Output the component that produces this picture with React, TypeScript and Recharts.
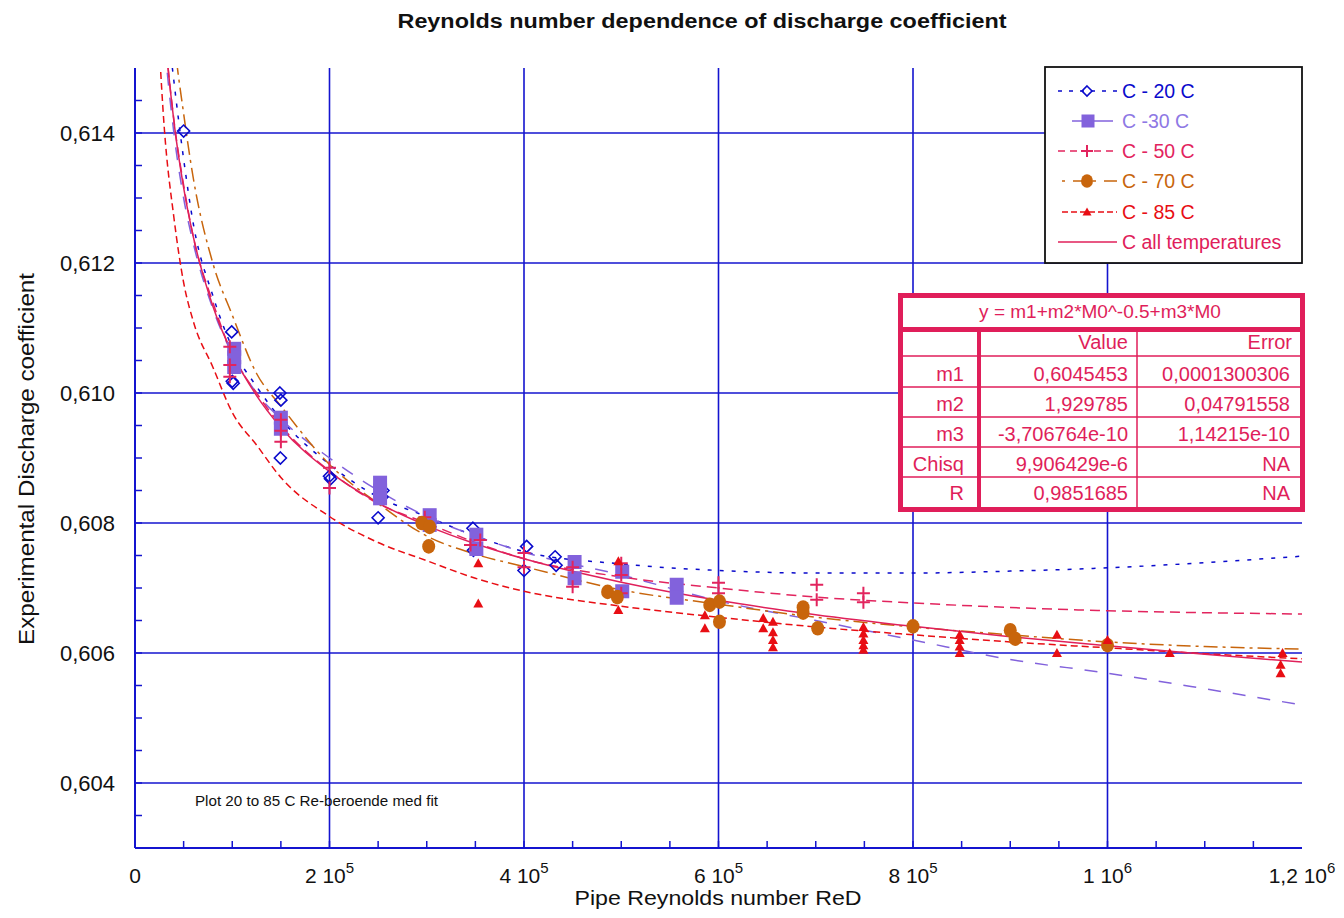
import React from "react";
import { ComposedChart, Line, Scatter, XAxis, YAxis, CartesianGrid, Customized } from "recharts";

const FONT = "'Liberation Sans', Arial, Helvetica, sans-serif";
const AXIS = "#1414CF";
const C20 = "#0A0ACC";
const C30 = "#8262DC";
const C30T = "#8E78E4";
const C50 = "#E2245E";
const C70 = "#C8650C";
const C85 = "#E80E14";
const FIT = "#E0205A";
const TABLE = "#E01E5A";

// ---------- axis ticks ----------
const xTicks = [0, 50000, 100000, 150000, 200000, 250000, 300000, 350000, 400000, 450000, 500000, 550000, 600000, 650000, 700000, 750000, 800000, 850000, 900000, 950000, 1000000, 1050000, 1100000, 1150000, 1200000];
const xMajor = [0, 200000, 400000, 600000, 800000, 1000000, 1200000];
const xMajorMantissa = ["0", "2 10", "4 10", "6 10", "8 10", "1 10", "1,2 10"];
const xMajorExp = ["", "5", "5", "5", "5", "6", "6"];
const yTicks = [0.603, 0.6035, 0.604, 0.6045, 0.605, 0.6055, 0.606, 0.6065, 0.607, 0.6075, 0.608, 0.6085, 0.609, 0.6095, 0.61, 0.6105, 0.611, 0.6115, 0.612, 0.6125, 0.613, 0.6135, 0.614, 0.6145, 0.615];
const yMajor = [0.604, 0.606, 0.608, 0.61, 0.612, 0.614];
const yMajorLabels = ["0,604", "0,606", "0,608", "0,610", "0,612", "0,614"];

// ---------- fitted curves ----------
const curveRe = [20000, 30000, 40000, 50000, 60000, 80000, 100000, 125000, 150000, 200000, 250000, 300000, 350000, 400000, 500000, 600000, 700000, 800000, 900000, 1000000, 1100000, 1200000];
const curve20 = [0.6185, 0.6162, 0.6148, 0.6136, 0.6126, 0.6115, 0.6107, 0.6101, 0.6096, 0.6089, 0.6084, 0.6081, 0.6078, 0.60756, 0.60737, 0.60727, 0.60723, 0.60723, 0.60726, 0.60731, 0.60739, 0.60749];
const curve30 = [0.618, 0.6155, 0.614, 0.613, 0.6123, 0.6113, 0.6106, 0.61, 0.6096, 0.609, 0.6085, 0.6081, 0.6078, 0.60755, 0.6072, 0.6068, 0.6065, 0.6062, 0.6059, 0.60569, 0.60545, 0.6052];
const curve50 = [0.6182, 0.6157, 0.6142, 0.6132, 0.6124, 0.6114, 0.6106, 0.61, 0.6095, 0.6088, 0.6083, 0.608, 0.6077, 0.60745, 0.60717, 0.607, 0.60686, 0.60677, 0.6067, 0.60665, 0.60662, 0.6066];
const curve70 = [0.6205, 0.6175, 0.6155, 0.6143, 0.6133, 0.612, 0.6112, 0.6103, 0.6098, 0.6089, 0.6083, 0.6078, 0.60752, 0.60733, 0.60697, 0.60675, 0.60655, 0.6064, 0.60628, 0.60617, 0.6061, 0.60606];
const curve85 = [0.6168, 0.6141, 0.6127, 0.6117, 0.6111, 0.6104, 0.6097, 0.6092, 0.6087, 0.6081, 0.6077, 0.60742, 0.60715, 0.60695, 0.60672, 0.60655, 0.6064, 0.60628, 0.60617, 0.60608, 0.60599, 0.60591];
const curveAll = [0.61819, 0.61568, 0.61418, 0.61316, 0.6124, 0.61134, 0.61061, 0.60996, 0.60947, 0.60879, 0.60831, 0.60796, 0.60768, 0.60745, 0.60709, 0.60681, 0.60659, 0.60641, 0.60625, 0.60611, 0.60598, 0.60586];

// ---------- measured points ----------
const re20 = [50000, 99400, 100000, 101000, 149000, 150000, 149500, 200000, 201000, 250000, 254000, 255000, 347500, 348000, 402700, 400000, 432000, 433000];
const cd20 = [0.61403, 0.61094, 0.61018, 0.61015, 0.61, 0.60989, 0.609, 0.60872, 0.60868, 0.60808, 0.6084, 0.6085, 0.60792, 0.60758, 0.60764, 0.60727, 0.60748, 0.60735];
const re30 = [102000, 102000, 102000, 150000, 150000, 252000, 252000, 252000, 303000, 303000, 351000, 351000, 452000, 452000, 501000, 501000, 557000, 557000];
const cd30 = [0.61068, 0.61055, 0.6104, 0.60962, 0.60945, 0.60862, 0.6085, 0.60838, 0.60812, 0.60797, 0.60782, 0.6076, 0.6074, 0.60715, 0.60725, 0.60695, 0.60705, 0.60685];
const re50 = [97500, 97500, 97500, 150000, 150000, 150000, 200000, 200000, 298000, 345000, 355000, 400000, 400000, 450000, 450000, 500000, 500000, 500000, 600000, 600000, 701000, 701000, 749000, 749000];
const cd50 = [0.61071, 0.61043, 0.61025, 0.60959, 0.60942, 0.60925, 0.60885, 0.60854, 0.60809, 0.60766, 0.60774, 0.60754, 0.60732, 0.60732, 0.60702, 0.60738, 0.6072, 0.60692, 0.60708, 0.60692, 0.60705, 0.60682, 0.60692, 0.60678];
const re70 = [295000, 303000, 302000, 486000, 496000, 591000, 601000, 601000, 687000, 687000, 702000, 800000, 900000, 905000, 1000000];
const cd70 = [0.608, 0.60794, 0.60764, 0.60694, 0.60686, 0.60674, 0.60679, 0.60648, 0.6067, 0.60662, 0.60638, 0.60641, 0.60635, 0.60622, 0.60612];
const re85 = [353000, 353000, 497000, 497000, 586000, 586000, 646000, 646000, 656000, 656000, 656000, 656000, 749000, 749000, 749000, 749000, 749000, 848000, 848000, 848000, 848000, 948000, 948000, 1000000, 1064000, 1180000, 1178000, 1178000];
const cd85 = [0.60738, 0.60676, 0.60741, 0.60666, 0.60658, 0.60638, 0.60654, 0.60638, 0.60648, 0.60632, 0.6062, 0.60609, 0.6064, 0.6063, 0.6062, 0.60612, 0.60605, 0.60628, 0.6062, 0.6061, 0.606, 0.60628, 0.606, 0.6062, 0.606, 0.606, 0.60582, 0.60569];

// ---------- fit table ----------
const fitEquation = "y = m1+m2*M0^-0.5+m3*M0";
const fitHeader = ["Value", "Error"];
const paramNames = ["m1", "m2", "m3", "Chisq", "R"];
const paramValues = ["0,6045453", "1,929785", "-3,706764e-10", "9,906429e-6", "0,9851685"];
const paramErrors = ["0,0001300306", "0,04791558", "1,14215e-10", "NA", "NA"];

const legendLabels = ["C - 20 C", "C -30 C", "C - 50 C", "C - 70 C", "C - 85 C", "C all temperatures"];

const toPts = (xs: number[], ys: number[]) => xs.map((x, i) => ({ x, y: ys[i] }));

// ---------- markers ----------
const Diamond = ({ cx, cy, s = 6 }: any) => (
  <path d={`M${cx},${cy - s}L${cx + s},${cy}L${cx},${cy + s}L${cx - s},${cy}Z`} fill="none" stroke={C20} strokeWidth={1.6} />
);
const Square = ({ cx, cy, s = 7 }: any) => <rect x={cx - s} y={cy - s} width={2 * s} height={2 * s} fill={C30} />;
const Plus = ({ cx, cy, s = 6.5 }: any) => (
  <path d={`M${cx - s},${cy}H${cx + s}M${cx},${cy - s}V${cy + s}`} stroke={C50} strokeWidth={2} fill="none" />
);
const Dot = ({ cx, cy, r = 6.5 }: any) => <ellipse cx={cx} cy={cy} rx={r} ry={r + 0.8} fill={C70} />;
const Tri = ({ cx, cy, s = 5 }: any) => (
  <path d={`M${cx},${cy - s}L${cx + s},${cy + s * 0.8}L${cx - s},${cy + s * 0.8}Z`} fill={C85} />
);

// ---------- ticks ----------
const XTickBottom = (p: any) => {
  const { x, y, payload } = p;
  const i = xMajor.indexOf(payload.value);
  const edge = payload.value === 0 || payload.value === 1200000;
  return (
    <g>
      {!edge && <line x1={x} y1={y} x2={x} y2={y - 7} stroke={AXIS} strokeWidth={1.5} />}
      {i >= 0 && (
        <text x={x} y={y + 35} textAnchor="middle" fontFamily={FONT} fontSize={21} fill="#111">
          <tspan>{xMajorMantissa[i]}</tspan>
          {xMajorExp[i] && <tspan dy={-10} fontSize={15}>{xMajorExp[i]}</tspan>}
        </text>
      )}
    </g>
  );
};
const XTickTop = (p: any) => {
  const { x, y, payload } = p;
  const edge = payload.value === 0 || payload.value === 1200000;
  return edge ? <g /> : <line x1={x} y1={y} x2={x} y2={y + 7} stroke={AXIS} strokeWidth={1.5} />;
};
const near = (a: number, b: number) => Math.abs(a - b) < 1e-7;
const YTickLeft = (p: any) => {
  const { x, y, payload } = p;
  const i = yMajor.findIndex((v) => near(v, payload.value));
  const edge = near(payload.value, 0.603) || near(payload.value, 0.615);
  return (
    <g>
      {!edge && <line x1={x} y1={y} x2={x + 7} y2={y} stroke={AXIS} strokeWidth={1.5} />}
      {i >= 0 && (
        <text x={x - 20} y={y + 8} textAnchor="end" fontFamily={FONT} fontSize={22} fill="#111">
          {yMajorLabels[i]}
        </text>
      )}
    </g>
  );
};
const YTickRight = (p: any) => {
  const { x, y, payload } = p;
  const edge = near(payload.value, 0.603) || near(payload.value, 0.615);
  return edge ? <g /> : <line x1={x} y1={y} x2={x - 7} y2={y} stroke={AXIS} strokeWidth={1.5} />;
};

// ---------- overlays ----------
const Overlay = () => {
  const lx1 = 1050, lx2 = 1109, lmx = 1079, ltx = 1114;
  const rowY = [83, 113, 143, 173, 204, 234];
  const legendColors = [C20, C30T, C50, C70, C85, FIT];
  const rowBase = [373, 403, 433, 463, 492];
  return (
    <g fontFamily={FONT}>
      <text x={694} y={20} textAnchor="middle" fontSize={20} fontWeight="bold" fill="#111" textLength={609} lengthAdjust="spacingAndGlyphs">
        Reynolds number dependence of discharge coefficient
      </text>
      <text x={710} y={897} textAnchor="middle" fontSize={19.5} fill="#111" textLength={287} lengthAdjust="spacingAndGlyphs">
        Pipe Reynolds number ReD
      </text>
      <text transform="translate(26,451) rotate(-90)" textAnchor="middle" fontSize={22} fill="#111" textLength={372} lengthAdjust="spacingAndGlyphs">
        Experimental Discharge coefficient
      </text>
      <text x={187} y={798} fontSize={14} fill="#111" textLength={243} lengthAdjust="spacingAndGlyphs">
        Plot 20 to 85 C Re-beroende med fit
      </text>

      {/* legend */}
      <rect x={1037} y={59} width={257} height={196} fill="#fff" stroke="#111" strokeWidth={1.8} />
      <line x1={lx1} y1={rowY[0]} x2={lx2} y2={rowY[0]} stroke={C20} strokeWidth={1.6} strokeDasharray="4 7" />
      <Diamond cx={lmx} cy={rowY[0]} s={5} />
      <line x1={1064} y1={rowY[1]} x2={1105} y2={rowY[1]} stroke={C30} strokeWidth={1.6} />
      <Square cx={1080} cy={rowY[1]} s={6.5} />
      <line x1={lx1} y1={rowY[2]} x2={lx2} y2={rowY[2]} stroke={C50} strokeWidth={1.6} strokeDasharray="7 5" />
      <Plus cx={lmx} cy={rowY[2]} s={6} />
      <line x1={lx1 + 4} y1={rowY[3]} x2={lx2} y2={rowY[3]} stroke={C70} strokeWidth={1.6} strokeDasharray="3 8 14 6" />
      <Dot cx={lmx} cy={rowY[3]} r={6} />
      <line x1={lx1 + 4} y1={rowY[4]} x2={lx2} y2={rowY[4]} stroke={C85} strokeWidth={1.6} strokeDasharray="6 3" />
      <Tri cx={lmx} cy={rowY[4]} s={4.5} />
      <line x1={lx1} y1={rowY[5]} x2={lx2} y2={rowY[5]} stroke={FIT} strokeWidth={1.6} />
      {legendLabels.map((t, i) => (
        <text key={t} x={ltx} y={rowY[i] + 7} fontSize={19.5} fill={legendColors[i]}>
          {t}
        </text>
      ))}

      {/* fit table */}
      <rect x={892.5} y={287.5} width={402} height={214} fill="#fff" stroke={TABLE} strokeWidth={5} />
      <line x1={890} y1={321.5} x2={1297} y2={321.5} stroke={TABLE} strokeWidth={5} />
      {[348, 379, 409, 439, 469].map((yy) => (
        <line key={yy} x1={895} y1={yy} x2={1292} y2={yy} stroke={TABLE} strokeWidth={1.5} />
      ))}
      <line x1={971} y1={321} x2={971} y2={502} stroke={TABLE} strokeWidth={4} />
      <line x1={1129} y1={321} x2={1129} y2={502} stroke={TABLE} strokeWidth={1.5} />
      <text x={1092} y={310} textAnchor="middle" fontSize={19} fill={TABLE}>
        {fitEquation}
      </text>
      <text x={1120} y={341} textAnchor="end" fontSize={20} fill={TABLE}>{fitHeader[0]}</text>
      <text x={1284} y={341} textAnchor="end" fontSize={20} fill={TABLE}>{fitHeader[1]}</text>
      {paramNames.map((n, i) => (
        <g key={n}>
          <text x={956} y={rowBase[i]} textAnchor="end" fontSize={20} fill={TABLE}>{n}</text>
          <text x={1120} y={rowBase[i]} textAnchor="end" fontSize={20} fill={TABLE}>{paramValues[i]}</text>
          <text x={1282} y={rowBase[i]} textAnchor="end" fontSize={20} fill={TABLE}>{paramErrors[i]}</text>
        </g>
      ))}
    </g>
  );
};

export default function App() {
  const lineCommon = { type: "monotone" as const, dataKey: "y", dot: false, activeDot: false, isAnimationActive: false, strokeWidth: 1.5 };
  return (
    <div style={{ width: 1336, height: 910 }}>
      <ComposedChart width={1336} height={910} margin={{ top: 60, right: 42, bottom: 0, left: 0 }}>
        <CartesianGrid
          stroke={AXIS}
          strokeWidth={1.6}
          strokeDasharray=""
          horizontalValues={yMajor}
          verticalValues={xMajor.slice(1, -1)}
        />
        <XAxis
          type="number"
          dataKey="x"
          domain={[0, 1200000]}
          ticks={xTicks}
          interval={0}
          allowDataOverflow
          height={70}
          tickSize={0}
          tickMargin={0}
          tickLine={false}
          axisLine={{ stroke: AXIS, strokeWidth: 2 }}
          tick={<XTickBottom />}
        />
        <XAxis
          xAxisId="top"
          orientation="top"
          type="number"
          dataKey="x"
          domain={[0, 1200000]}
          ticks={xTicks}
          interval={0}
          allowDataOverflow
          height={0}
          tickSize={0}
          tickMargin={0}
          tickLine={false}
          axisLine={{ stroke: AXIS, strokeWidth: 2 }}
          tick={<XTickTop />}
        />
        <YAxis
          type="number"
          dataKey="y"
          domain={[0.603, 0.615]}
          ticks={yTicks}
          interval={0}
          allowDataOverflow
          width={127}
          tickSize={0}
          tickMargin={0}
          tickLine={false}
          axisLine={{ stroke: AXIS, strokeWidth: 2 }}
          tick={<YTickLeft />}
        />
        <YAxis
          yAxisId="right"
          orientation="right"
          type="number"
          dataKey="y"
          domain={[0.603, 0.615]}
          ticks={yTicks}
          interval={0}
          allowDataOverflow
          width={0}
          tickSize={0}
          tickMargin={0}
          tickLine={false}
          axisLine={{ stroke: AXIS, strokeWidth: 2 }}
          tick={<YTickRight />}
        />

        <Line {...lineCommon} data={toPts(curveRe, curve20)} stroke={C20} strokeDasharray="4 8" />
        <Scatter data={toPts(re20, cd20)} isAnimationActive={false} shape={(p: any) => <Diamond cx={p.cx} cy={p.cy} />} />
        <Line {...lineCommon} data={toPts(curveRe, curve30)} stroke={C30} strokeDasharray="13 12" />
        <Scatter data={toPts(re30, cd30)} isAnimationActive={false} shape={(p: any) => <Square cx={p.cx} cy={p.cy} />} />
        <Line {...lineCommon} data={toPts(curveRe, curve50)} stroke={C50} strokeDasharray="10 6" />
        <Scatter data={toPts(re50, cd50)} isAnimationActive={false} shape={(p: any) => <Plus cx={p.cx} cy={p.cy} />} />
        <Line {...lineCommon} data={toPts(curveRe, curve70)} stroke={C70} strokeDasharray="14 5 3 5" />
        <Scatter data={toPts(re70, cd70)} isAnimationActive={false} shape={(p: any) => <Dot cx={p.cx} cy={p.cy} />} />
        <Line {...lineCommon} data={toPts(curveRe, curve85)} stroke={C85} strokeDasharray="7 4" />
        <Scatter data={toPts(re85, cd85)} isAnimationActive={false} shape={(p: any) => <Tri cx={p.cx} cy={p.cy} />} />
        <Line {...lineCommon} data={toPts(curveRe, curveAll)} stroke={FIT} />

        <Customized component={Overlay} />
      </ComposedChart>
    </div>
  );
}
